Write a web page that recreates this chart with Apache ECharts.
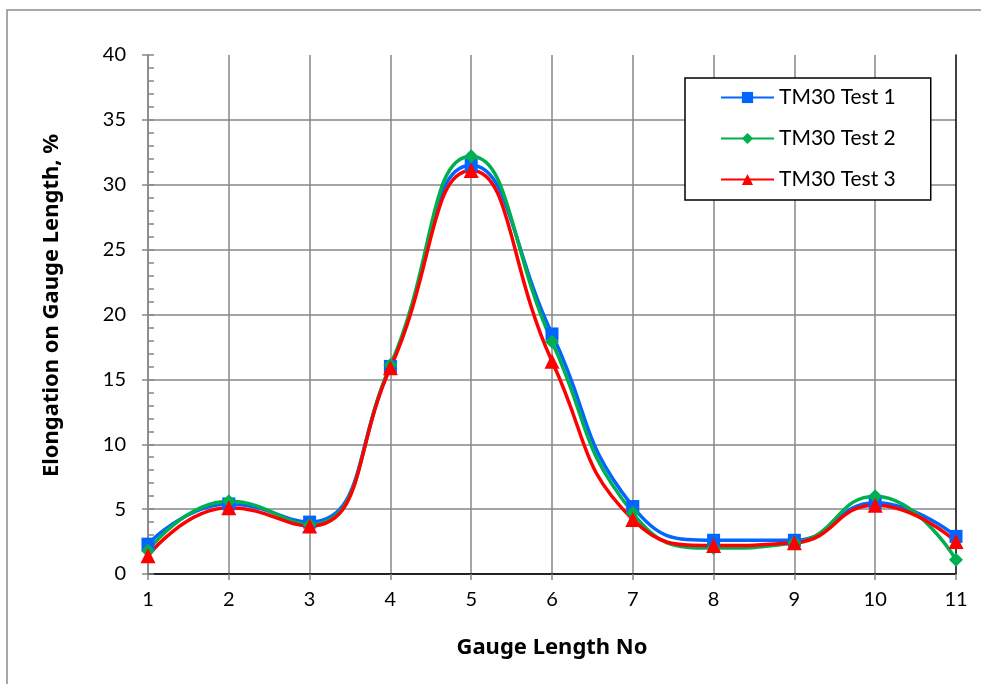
<!DOCTYPE html>
<html>
<head>
<meta charset="utf-8">
<script src="https://cdn.jsdelivr.net/npm/echarts@6/dist/echarts.min.js"></script>
<style>
  html, body {margin: 0; padding: 0; background: #fff;}
  #chart {width: 981px; height: 684px;}
</style>
</head>
<body>
<div id="chart"></div>
<script>
// gauge length numbers
const gauges = [1, 2, 3, 4, 5, 6, 7, 8, 9, 10, 11];
// elongation values, %
const test1 = [2.3, 5.4, 4.0, 16.0, 31.5, 18.5, 5.2, 2.6, 2.6, 5.5, 2.9];
const test2 = [1.8, 5.6, 3.8, 16.1, 32.2, 17.9, 4.7, 2.0, 2.4, 6.0, 1.1];
const test3 = [1.4, 5.1, 3.7, 15.9, 31.1, 16.4, 4.2, 2.2, 2.4, 5.3, 2.5];
const seriesNames = ['TM30 Test 1', 'TM30 Test 2', 'TM30 Test 3'];
const yTicks = [0, 40, 5];

const FONT = 'Lato';
const TITLE_FONT = 'Noto Sans';
const GRID = '#878787';

const pairs = arr => gauges.map((g, i) => [g, arr[i]]);

function lineSeries(name, data, color, symbol, size) {
  return {
    name: name,
    type: 'line',
    data: pairs(data),
    smooth: 0.5,
    symbol: symbol,
    symbolSize: size,
    color: color,
    lineStyle: {width: 3.5, color: color},
    itemStyle: {color: color},
    emphasis: {disabled: true}
  }
}

const myChart = echarts.init(document.getElementById('chart'));
myChart.setOption({
  animation: false,
  textStyle: {fontFamily: FONT},
  graphic: [{
    type: 'rect',
    shape: {x: 7, y: 10, width: 1000, height: 700},
    style: {fill: 'none', stroke: '#8c8c8c', lineWidth: 1.5},
    silent: true
  }],
  grid: {left: 148, right: 25, top: 55, bottom: 110},
  legend: {
    data: seriesNames,
    orient: 'vertical',
    left: 685, top: 78,
    padding: [9, 35, 10, 35],
    itemWidth: 53, itemHeight: 14, itemGap: 20,
    borderColor: '#000', borderWidth: 1.5,
    backgroundColor: '#fff',
    textStyle: {fontFamily: FONT, fontSize: 21, color: '#000', lineHeight: 20}
  },
  xAxis: [{
    type: 'value',
    min: gauges[0], max: gauges[gauges.length - 1], interval: 1,
    name: 'Gauge Length No',
    nameLocation: 'middle',
    nameGap: 63,
    nameTextStyle: {fontFamily: TITLE_FONT, fontSize: 22, fontWeight: 'bold', color: '#000'},
    axisLine: {lineStyle: {color: GRID, width: 1.5}},
    axisTick: {show: true, length: 6, lineStyle: {color: GRID, width: 1.5}},
    axisLabel: {fontSize: 20, color: '#000', margin: 16},
    splitLine: {show: true, showMaxLine: false, lineStyle: {color: GRID, width: 1.5}}
  }, {
    type: 'value', position: 'top',
    min: gauges[0], max: gauges[gauges.length - 1], interval: 1,
    axisLine: {show: true, lineStyle: {color: '#000', width: 1.5}},
    axisTick: {show: false}, axisLabel: {show: false}, splitLine: {show: false}
  }],
  yAxis: [{
    type: 'value',
    min: yTicks[0], max: yTicks[1], interval: yTicks[2],
    name: 'Elongation on Gauge Length, %',
    nameLocation: 'middle',
    nameGap: 85,
    nameTextStyle: {fontFamily: TITLE_FONT, fontSize: 22, fontWeight: 'bold', color: '#000', padding: [0, 0, 0, 18]},
    axisLine: {show: true, lineStyle: {color: GRID, width: 1.5}},
    axisTick: {show: true, inside: true, length: 6, lineStyle: {color: GRID, width: 1.5}},
    minorTick: {show: true, splitNumber: 5, length: 6, lineStyle: {color: GRID, width: 1.5}},
    axisLabel: {fontSize: 20, color: '#000', margin: 22},
    splitLine: {show: true, showMaxLine: false, lineStyle: {color: GRID, width: 1.5}}
  }, {
    // outside half of the crossing major ticks
    type: 'value', position: 'left', offset: 0,
    min: yTicks[0], max: yTicks[1], interval: yTicks[2],
    axisLine: {show: false},
    axisTick: {show: true, length: 6, lineStyle: {color: GRID, width: 1.5}},
    axisLabel: {show: false}, splitLine: {show: false}
  }, {
    type: 'value', position: 'right',
    min: yTicks[0], max: yTicks[1], interval: yTicks[2],
    axisLine: {show: true, lineStyle: {color: '#000', width: 1.5}},
    axisTick: {show: false}, axisLabel: {show: false}, splitLine: {show: false}
  }],
  series: [
    lineSeries(seriesNames[0], test1, '#0066FF', 'rect', 13),
    lineSeries(seriesNames[1], test2, '#00B050', 'diamond', 14),
    lineSeries(seriesNames[2], test3, '#FF0000', 'triangle', 15)
  ]
});
</script>
</body>
</html>
